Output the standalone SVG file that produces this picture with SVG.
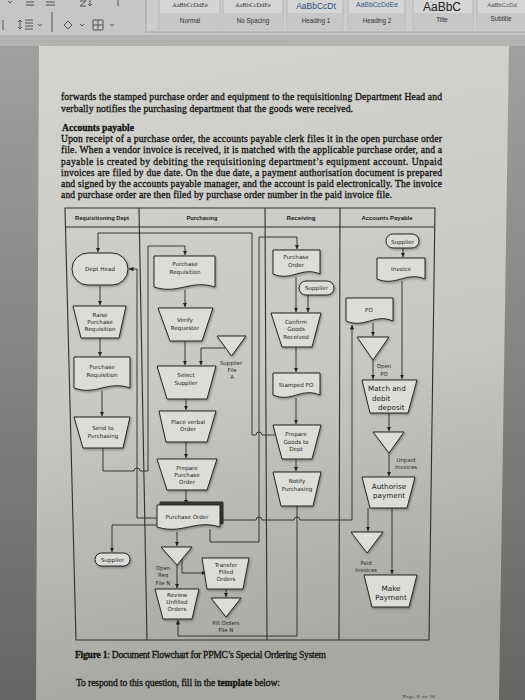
<svg xmlns="http://www.w3.org/2000/svg" width="525" height="700" viewBox="0 0 525 700">
<defs>
<linearGradient id="bg" x1="0" y1="0" x2="0" y2="1"><stop offset="0" stop-color="#a4a4a2"/><stop offset="1" stop-color="#656563"/></linearGradient>
<linearGradient id="pg" x1="0" y1="0" x2="0.15" y2="1"><stop offset="0" stop-color="#d3d3cf"/><stop offset="0.55" stop-color="#c8c8c4"/><stop offset="1" stop-color="#a8a8a3"/></linearGradient>
<filter id="ds" x="-15%" y="-15%" width="140%" height="150%"><feDropShadow dx="1" dy="1.2" stdDeviation="0.8" flood-color="#000" flood-opacity="0.35"/></filter>
<marker id="ah" viewBox="0 0 6 6" refX="6" refY="3" markerWidth="4.5" markerHeight="4.5" markerUnits="userSpaceOnUse" orient="auto"><path d="M0,0 L6,3 L0,6 z" fill="#222"/></marker>
<clipPath id="gal"><rect x="146" y="0" width="379" height="30"/></clipPath>
<style>
.sh{fill:#dcdcd8;stroke:#262626;stroke-width:1;filter:url(#ds)}
.ln{fill:none;stroke:#262626;stroke-width:0.9}
.ar{marker-end:url(#ah)}
.t{font-family:"DejaVu Sans",sans-serif;font-size:5.6px;fill:#1e1e1e;text-anchor:middle}
.tb{font-size:7.2px;fill:#222}
.ls{text-anchor:start}
.lb{font-family:"DejaVu Sans",sans-serif;font-size:5.4px;fill:#2a2a2a;text-anchor:middle}
.hd{font-family:"Liberation Sans",sans-serif;font-weight:bold;font-size:5.8px;fill:#1a1a1a;text-anchor:middle}
.tbl{fill:none;stroke:#2e2e2e;stroke-width:1.1}
.p{font-family:"Liberation Serif",serif;font-size:9.6px;fill:#141414;stroke:#141414;stroke-width:0.3}
.tile{fill:#d5d5d5;stroke:#b0b0b0;stroke-width:0.8}
.tlab{font-family:"Liberation Sans",sans-serif;font-size:6.3px;fill:#333;text-anchor:middle}
.ic{fill:none;stroke:#555;stroke-width:1}
</style>
</defs>

<rect x="0" y="0" width="525" height="700" fill="url(#bg)"/>
<!-- toolbar -->
<g id="toolbar">
<rect x="0" y="0" width="525" height="35" fill="#c6c6c6"/>
<rect x="0" y="35" width="525" height="11" fill="#b3b3b1"/>
<rect x="146" y="-2" width="385" height="34" fill="#cdcdcd" stroke="#a6a6a6"/>
<path class="ic" d="M8,1 l2,2 l2,-2 M26,2 h8 M26,5 h8 M46,2 h9 M46,5 h9 M80,1 h6 l-6,5 h6 M90,0 v6 M88,4 l2,2 l2,-2 M118,0 v6"/>
<path class="ic" d="M52,12 v20 M3,20 v10 M20,20 v9 M18,22 l2,-2 l2,2 M18,27 l2,2 l2,-2 M25,20 h8 M25,23 h8 M25,26 h8 M25,29 h8 M38,24 l2,2 l2,-2 M80,24 l2,2 l2,-2 M110,24 l2,2 l2,-2"/>
<path class="ic" d="M64,25 l4,-4 l4,4 l-4,4 z M93,20 h10 v10 h-10 z M98,20 v10 M93,25 h10"/>
<g clip-path="url(#gal)">
<rect class="tile" x="159" y="-2" width="61" height="31" stroke="#7d8ca6" stroke-width="1.4"/>
<rect class="tile" x="223" y="-2" width="60" height="31"/>
<rect class="tile" x="287" y="-2" width="56" height="31"/>
<rect class="tile" x="348" y="-2" width="57" height="31"/>
<rect class="tile" x="413" y="-2" width="60" height="31"/>
<rect class="tile" x="477" y="-2" width="60" height="31"/>
<rect x="160" y="13" width="59" height="15" fill="#c7c7c7"/>
<rect x="224" y="13" width="58" height="15" fill="#c7c7c7"/>
<rect x="288" y="13" width="54" height="15" fill="#c7c7c7"/>
<rect x="349" y="13" width="55" height="15" fill="#c7c7c7"/>
<rect x="414" y="13" width="58" height="15" fill="#c7c7c7"/>
<rect x="478" y="13" width="58" height="15" fill="#c7c7c7"/>
<text x="190" y="7" font-family="Liberation Serif, serif" font-size="6.2" fill="#333" text-anchor="middle">AaBbCcDdEe</text>
<text x="253" y="7" font-family="Liberation Serif, serif" font-size="6.2" fill="#333" text-anchor="middle">AaBbCcDdEe</text>
<text x="316" y="9" font-family="Liberation Sans, sans-serif" font-size="8.5" fill="#2f4a82" text-anchor="middle">AaBbCcDt</text>
<text x="377" y="7" font-family="Liberation Sans, sans-serif" font-size="6.8" fill="#3a5888" text-anchor="middle">AaBbCcDdEe</text>
<text x="442" y="11" font-family="Liberation Sans, sans-serif" font-size="12" fill="#222" text-anchor="middle">AaBbC</text>
<text x="502" y="7" font-family="Liberation Sans, sans-serif" font-size="6" fill="#555" text-anchor="middle">AaBbCcDd</text>
<text class="tlab" x="190" y="23">Normal</text>
<text class="tlab" x="253" y="23">No Spacing</text>
<text class="tlab" x="316" y="23">Heading 1</text>
<text class="tlab" x="377" y="23">Heading 2</text>
<text class="tlab" x="442" y="22">Title</text>
<text class="tlab" x="501" y="21">Subtitle</text>
</g>
</g>

<!-- page -->
<polygon points="39,46 509,46 499,700 36,700" fill="url(#pg)"/>

<!-- paragraph -->
<g id="paragraph">
<text class="p" x="61" y="100" textLength="381" lengthAdjust="spacing">forwards the stamped purchase order and equipment to the requisitioning Department Head and</text>
<text class="p" x="61" y="112" textLength="292" lengthAdjust="spacing">verbally notifies the purchasing department that the goods were received.</text>
<text class="p" x="62" y="131" font-weight="bold" textLength="72" lengthAdjust="spacing">Accounts payable</text>
<text class="p" x="61" y="141.5" textLength="381" lengthAdjust="spacing">Upon receipt of a purchase order, the accounts payable clerk files it in the open purchase order</text>
<text class="p" x="61" y="153" textLength="381" lengthAdjust="spacing">file. When a vendor invoice is received, it is matched with the applicable purchase order, and a</text>
<text class="p" x="61" y="164.5" textLength="381" lengthAdjust="spacing">payable is created by debiting the requisitioning department’s equipment account. Unpaid</text>
<text class="p" x="61" y="175.5" textLength="381" lengthAdjust="spacing">invoices are filed by due date. On the due date, a payment authorisation document is prepared</text>
<text class="p" x="61" y="186.5" textLength="381" lengthAdjust="spacing">and signed by the accounts payable manager, and the account is paid electronically. The invoice</text>
<text class="p" x="61" y="197.5" textLength="331" lengthAdjust="spacing">and purchase order are then filed by purchase order number in the paid invoice file.</text>
</g>

<!-- table frame -->
<g id="swimlanes">
<polygon class="tbl" points="65,208 435,208 429,640 76,640"/>
<line class="tbl" x1="65.5" y1="227" x2="434.7" y2="227"/>
<line class="tbl" x1="139" y1="208" x2="147" y2="640"/>
<line class="tbl" x1="265" y1="208" x2="267" y2="640"/>
<line class="tbl" x1="340" y1="208" x2="339" y2="640"/>
<text class="hd" x="102" y="220" textLength="54" lengthAdjust="spacingAndGlyphs">Requisitioning Dept</text>
<text class="hd" x="202" y="220" textLength="31" lengthAdjust="spacingAndGlyphs">Purchasing</text>
<text class="hd" x="301" y="220" textLength="29" lengthAdjust="spacingAndGlyphs">Receiving</text>
<text class="hd" x="387" y="220" textLength="51" lengthAdjust="spacingAndGlyphs">Accounts Payable</text>
</g>

<!-- connectors -->
<g id="connectors">
<path class="ln ar" d="M275,435 H262 A3,3 0 0 0 256,435 H252 V233 H98 V252"/>
<path class="ln ar" d="M157,518 H137 V269 H129"/>
<path class="ln ar" d="M103,448 V471 H134 A3,3 0 0 1 140,471 H148 V246 H185 V255"/>
<path class="ln ar" d="M100,286 V305"/>
<path class="ln ar" d="M100,338 V356"/>
<path class="ln ar" d="M102,391 V416"/>
<path class="ln ar" d="M157,525 H112 V552"/>
<path class="ln ar" d="M185,290 V307"/>
<path class="ln ar" d="M185,341 V365"/>
<path class="ln ar" d="M225,348 H201 V365"/>
<path class="ln ar" d="M186,399 V410"/>
<path class="ln ar" d="M186,442 V458"/>
<path class="ln ar" d="M186,490 V504"/>
<path class="ln ar" d="M177,532 V546"/>
<path class="ln ar" d="M210,529 V542 H259 V237 H297 V249"/>
<path class="ln ar" d="M220,520 H256 A3,3 0 0 1 262,520 H294 A3,3 0 0 1 300,520 H352 V325"/>
<path class="ln ar" d="M177,565 V588"/>
<path class="ln ar" d="M182,559 V573 H206"/>
<path class="ln ar" d="M226,589 V597"/>
<path class="ln ar" d="M297,506 V636 H178 V620"/>
<path class="ln ar" d="M296,277 V312"/>
<path class="ln ar" d="M308,295 V312"/>
<path class="ln ar" d="M296,347 V372"/>
<path class="ln ar" d="M296,398 V424"/>
<path class="ln ar" d="M296,459 V471"/>
<path class="ln ar" d="M403,248 V257"/>
<path class="ln ar" d="M402,281 V379"/>
<path class="ln ar" d="M373,323 V336"/>
<path class="ln ar" d="M373,360 V379"/>
<path class="ln ar" d="M389,413 V431"/>
<path class="ln ar" d="M389,453 V476"/>
<path class="ln ar" d="M368,508 V531"/>
<path class="ln ar" d="M392,508 V574"/>
</g>

<!-- Requisitioning Dept -->
<g id="dept-head"><rect class="sh" x="72" y="253" width="56" height="32" rx="16"/><text class="t" x="100" y="271">Dept Head</text></g>
<g id="raise-req"><polygon class="sh" points="73,306 126,306 119,338 81,338"/><text class="t" x="100" y="317">Raise</text><text class="t" x="100" y="324">Purchase</text><text class="t" x="100" y="331">Requisition</text></g>
<g id="purch-req-dept"><path class="sh" d="M74,357 H130 V388 C107.6,380 96.4,396 74,388 Z"/><text class="t" x="102" y="369">Purchase</text><text class="t" x="102" y="376.5">Requisition</text></g>
<g id="send-to-purch"><polygon class="sh" points="74,417 130,417 123,448 83,448"/><text class="t" x="103" y="430">Send to</text><text class="t" x="103" y="438">Purchasing</text></g>
<g id="supplier-left"><rect class="sh" x="95" y="553" width="35" height="13" rx="6.5"/><text class="t" x="112.5" y="561.8">Supplier</text></g>

<!-- Purchasing -->
<g id="purch-req"><path class="sh" d="M154,256 H215 V287 C190.6,279 178.4,295 154,287 Z"/><text class="t" x="185" y="266">Purchase</text><text class="t" x="185" y="274">Requisition</text></g>
<g id="verify"><polygon class="sh" points="158,308 213,308 202,341 170,341"/><text class="t" x="185" y="322">Verify</text><text class="t" x="185" y="330">Requester</text></g>
<g id="select-supplier"><polygon class="sh" points="157,366 216,366 207,399 167,399"/><text class="t" x="186" y="377">Select</text><text class="t" x="186" y="385">Supplier</text></g>
<g id="supplier-file-a"><polygon class="sh" points="217,336 246,336 231.5,356"/><text class="lb" x="231" y="364.5">Supplier</text><text class="lb" x="232" y="371.5">File</text><text class="lb" x="232" y="379">A</text></g>
<g id="place-order"><polygon class="sh" points="159,411 216,411 207,442 166,442"/><text class="t" x="188" y="424">Place verbal</text><text class="t" x="188" y="431">Order</text></g>
<g id="prepare-po"><polygon class="sh" points="157,459 217,459 207,490 167,490"/><text class="t" x="187" y="470">Prepare</text><text class="t" x="187" y="477">Purchase</text><text class="t" x="187" y="484">Order</text></g>
<g id="purchase-order"><path d="M160,502 H223 V524 C197.8,516 185.2,532 160,524 Z" fill="#3a3a3a" stroke="#262626"/><path class="sh" d="M157,505 H220 V527 C194.8,519 182.2,535 157,527 Z"/><text class="t" x="187" y="519">Purchase Order</text></g>
<g id="open-req-file"><polygon class="sh" points="161,547 192,547 177,565"/><text class="lb" x="163" y="570">Open</text><text class="lb" x="163" y="577">Req</text><text class="lb" x="163" y="585">File N</text></g>
<g id="review-unfilled"><polygon class="sh" points="155,589 199,589 192,619 163,619"/><text class="t" x="177" y="597">Review</text><text class="t" x="177" y="604">Unfilled</text><text class="t" x="177" y="611">Orders</text></g>
<g id="transfer-filled"><polygon class="sh" points="202,558 249,558 243,589 207,589"/><text class="t" x="226" y="567">Transfer</text><text class="t" x="226" y="574">Filled</text><text class="t" x="226" y="581">Orders</text></g>
<g id="fill-orders-file"><polygon class="sh" points="211,598 241,598 226,617"/><text class="lb" x="226" y="625">Fill Orders</text><text class="lb" x="226" y="632">File N</text></g>

<!-- Receiving -->
<g id="po-receiving"><path class="sh" d="M273,250 H320 V274 C301.2,266 291.8,282 273,274 Z"/><text class="t" x="296" y="259">Purchase</text><text class="t" x="296" y="267">Order</text></g>
<g id="supplier-receiving"><rect class="sh" x="299" y="281" width="35" height="14" rx="7"/><text class="t" x="316.5" y="290">Supplier</text></g>
<g id="confirm-goods"><polygon class="sh" points="271,313 321,313 312,347 282,347"/><text class="t" x="296" y="324">Confirm</text><text class="t" x="296" y="331">Goods</text><text class="t" x="296" y="339">Received</text></g>
<g id="stamped-po"><path class="sh" d="M273,373 H320 V395 C301.2,387 291.8,403 273,395 Z"/><text class="t" x="296" y="387">Stamped PO</text></g>
<g id="prepare-goods"><polygon class="sh" points="273,425 321,425 312,459 282,459"/><text class="t" x="296" y="436">Prepare</text><text class="t" x="296" y="444">Goods to</text><text class="t" x="296" y="451">Dept</text></g>
<g id="notify-purch"><polygon class="sh" points="273,472 321,472 313,506 281,506"/><text class="t" x="297" y="483">Notify</text><text class="t" x="297" y="491">Purchasing</text></g>

<!-- Accounts Payable -->
<g id="supplier-ap"><rect class="sh" x="386" y="234" width="33" height="14" rx="7"/><text class="t" x="402.5" y="243.5">Supplier</text></g>
<g id="invoice"><path class="sh" d="M377,258 H425 V279 C405.8,271 396.2,287 377,279 Z"/><text class="t" x="401" y="271">Invoice</text></g>
<g id="po-ap"><path class="sh" d="M346,298 H393 V321 C374.2,313 364.8,329 346,321 Z"/><text class="t" x="369" y="312">PO</text></g>
<g id="open-po-file"><polygon class="sh" points="357,337 389,337 373,360"/><text class="lb" x="384" y="368">Open</text><text class="lb" x="384" y="376">PO</text></g>
<g id="match-debit"><polygon class="sh" points="362,380 417,380 408,413 370,413"/><text class="t tb ls" x="368" y="391">Match and</text><text class="t tb ls" x="372" y="401">debit</text><text class="t tb ls" x="378" y="410">deposit</text></g>
<g id="unpaid-invoices"><polygon class="sh" points="373,432 404,432 389,453"/><text class="lb" x="406" y="462">Unpaid</text><text class="lb" x="406" y="469">Invoices</text></g>
<g id="authorise-payment"><polygon class="sh" points="362,477 415,477 407,508 370,508"/><text class="t tb" x="389" y="489">Authorise</text><text class="t tb" x="389" y="498">payment</text></g>
<g id="paid-invoices"><polygon class="sh" points="351,532 383,532 367,553"/><text class="lb" x="366" y="565">Paid</text><text class="lb" x="366" y="572">Invoices</text></g>
<g id="make-payment"><polygon class="sh" points="364,575 417,575 409,607 372,607"/><text class="t tb" x="391" y="591">Make</text><text class="t tb" x="391" y="600">Payment</text></g>

<!-- caption -->
<g id="caption">
<text class="p" x="75" y="658" font-size="8.8" textLength="251" lengthAdjust="spacing"><tspan font-weight="bold">Figure 1</tspan>: Document Flowchart for PPMC’s Special Ordering System</text>
<text class="p" x="76" y="686" font-size="8.8" textLength="204" lengthAdjust="spacing">To respond to this question, fill in the <tspan font-weight="bold">template</tspan> below:</text>
<text x="403" y="698" font-family="Liberation Serif, serif" font-size="5" fill="#222" textLength="32">Page 8 of 16</text>
</g>
</svg>
